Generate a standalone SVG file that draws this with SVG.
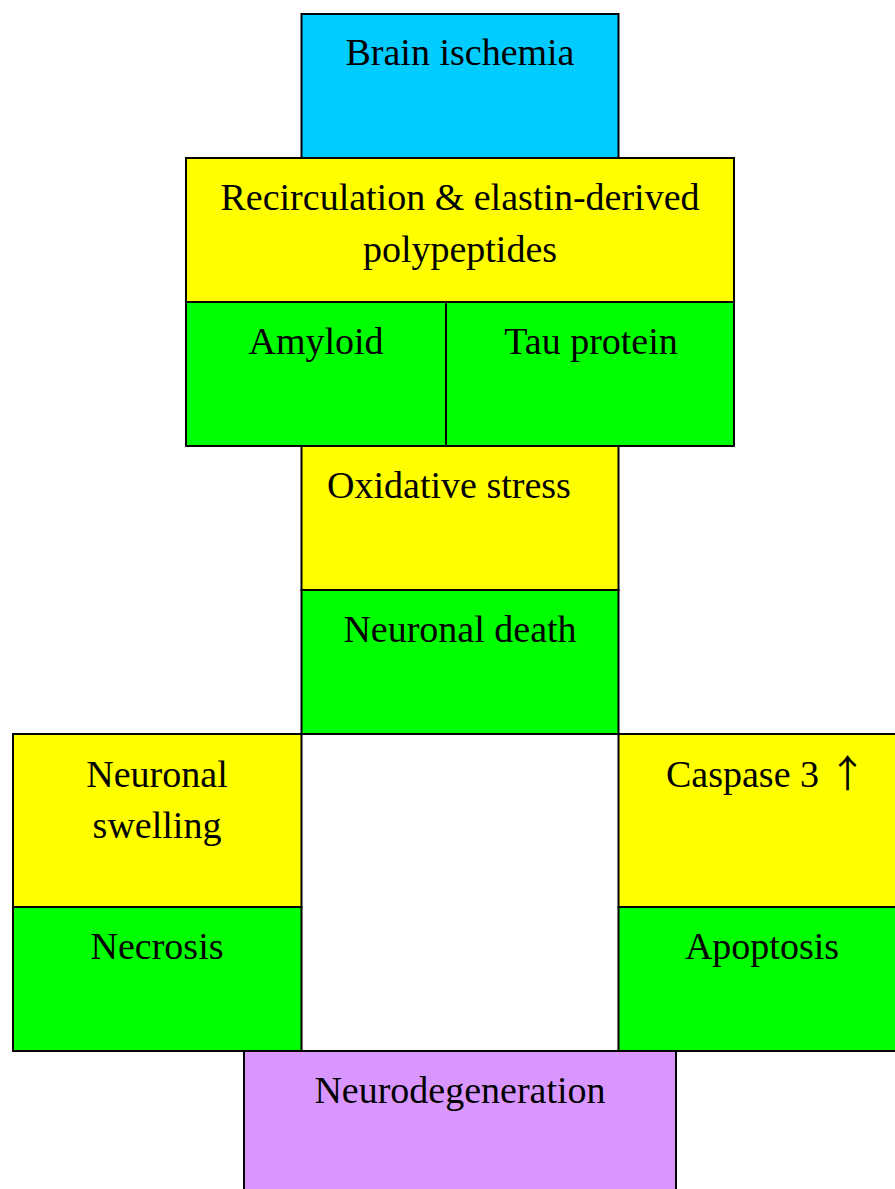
<svg xmlns="http://www.w3.org/2000/svg" width="895" height="1189" viewBox="0 0 895 1189">
  <style>
    rect { stroke: #000; stroke-width: 2; }
    .cyan { fill: #00CCFF; }
    .yellow { fill: #FFFF00; }
    .green { fill: #00FF00; }
    .violet { fill: #DA96FF; }
    text { font-family: "Liberation Serif", "DejaVu Serif", serif; font-size: 38px; fill: #000; text-anchor: middle; }
    .arrow { font-family: "Noto Sans CJK JP", "DejaVu Sans", sans-serif; }
  </style>
  <rect x="0" y="0" width="895" height="1189" fill="#fff" style="stroke:none"/>

  <g id="brain-ischemia">
    <rect class="cyan" x="301.5" y="14" width="317" height="144"/>
    <text x="460" y="65">Brain ischemia</text>
  </g>

  <g id="recirculation">
    <rect class="yellow" x="186" y="158" width="548" height="144"/>
    <text x="460" y="210">Recirculation &amp; elastin-derived</text>
    <text x="460" y="262">polypeptides</text>
  </g>

  <g id="amyloid">
    <rect class="green" x="186" y="302" width="260" height="144"/>
    <text x="316" y="354">Amyloid</text>
  </g>

  <g id="tau-protein">
    <rect class="green" x="446" y="302" width="288" height="144"/>
    <text x="591" y="354">Tau protein</text>
  </g>

  <g id="oxidative-stress">
    <rect class="yellow" x="301.5" y="446" width="317" height="144"/>
    <text x="449" y="498">Oxidative stress</text>
  </g>

  <g id="neuronal-death">
    <rect class="green" x="301.5" y="590" width="317" height="144"/>
    <text x="460" y="642">Neuronal death</text>
  </g>

  <g id="neuronal-swelling">
    <rect class="yellow" x="13" y="734" width="288.5" height="173"/>
    <text x="157" y="787">Neuronal</text>
    <text x="157" y="838">swelling</text>
  </g>

  <g id="necrosis">
    <rect class="green" x="13" y="907" width="288.5" height="144"/>
    <text x="157" y="959">Necrosis</text>
  </g>

  <g id="caspase-3">
    <rect class="yellow" x="618.5" y="734" width="287" height="173"/>
    <text x="666" y="787" style="text-anchor:start">Caspase 3 <tspan class="arrow">↑</tspan></text>
  </g>

  <g id="apoptosis">
    <rect class="green" x="618.5" y="907" width="287" height="144"/>
    <text x="762" y="959">Apoptosis</text>
  </g>

  <g id="neurodegeneration">
    <rect class="violet" x="244" y="1051" width="432" height="150"/>
    <text x="460" y="1103">Neurodegeneration</text>
  </g>

  <g id="connectors"/>
</svg>
